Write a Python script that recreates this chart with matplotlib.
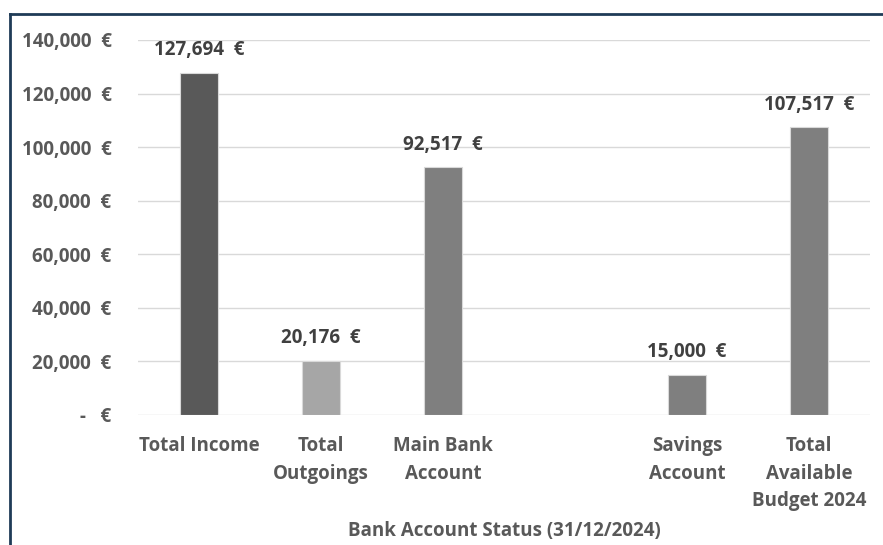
import matplotlib
matplotlib.use("Agg")
import matplotlib.pyplot as plt
import numpy as np

categories = ["Total Income", "Total\nOutgoings", "Main Bank\nAccount", "",
              "Savings\nAccount", "Total\nAvailable\nBudget 2024"]
values = [127694, 20176, 92517, np.nan, 15000, 107517]
bar_colors = ["#595959", "#a6a6a6", "#7f7f7f", "#7f7f7f", "#7f7f7f", "#7f7f7f"]
y_ticks = [0, 20000, 40000, 60000, 80000, 100000, 120000, 140000]
x_title = "Bank Account Status (31/12/2024)"

plt.rcParams['font.family'] = ['Open Sans', 'DejaVu Sans']
plt.rcParams['font.weight'] = 'bold'

FS = 13.5
W, H = 883, 545
fig = plt.figure(figsize=(W / 100, H / 100), dpi=100)
ax = fig.add_axes([138 / W, 1 - 415 / H, (870 - 138) / W, (415 - 40) / H])

x = np.arange(len(categories))
ax.bar(x, values, width=0.31, color=bar_colors, edgecolor="#d9d9d9", linewidth=0.8, zorder=3)

ax.set_ylim(0, 140000)
ax.set_xlim(-0.5, len(categories) - 0.5)
ax.set_yticks(y_ticks)


def fmt(v):
    return "-   €" if v == 0 else f"{v:,.0f}  €"


ax.set_yticklabels([fmt(v) for v in y_ticks])
ax.set_xticks(x)
ax.set_xticklabels(categories, linespacing=1.52)

ax.grid(axis="y", color="#d9d9d9", linewidth=1.0, zorder=0)
for s in ax.spines.values():
    s.set_visible(False)
ax.tick_params(axis="both", length=0, colors="#595959", labelsize=FS)
ax.tick_params(axis="y", pad=19)
ax.tick_params(axis="x", pad=15)
for lbl in ax.get_xticklabels() + ax.get_yticklabels():
    lbl.set_fontweight("bold")
    lbl.set_color("#595959")

for xi, v in zip(x, values):
    if np.isnan(v):
        continue
    ax.annotate(f"{v:,.0f}  €", (xi, v), xytext=(0, 9), textcoords="offset points",
                ha="center", va="bottom", fontsize=FS, fontweight="bold",
                color="#404040", clip_on=False, zorder=4)

ax.set_xlabel(x_title, fontsize=FS, fontweight="bold", color="#595959", labelpad=7)

# screenshot frame lines
fig.add_artist(plt.Line2D([10 / W, 1], [1 - 14 / H, 1 - 14 / H], color="#1f3b57", linewidth=2))
fig.add_artist(plt.Line2D([10 / W, 10 / W], [0, 1 - 14 / H], color="#1f3b57", linewidth=2))

fig.savefig("out.png", dpi=100)
